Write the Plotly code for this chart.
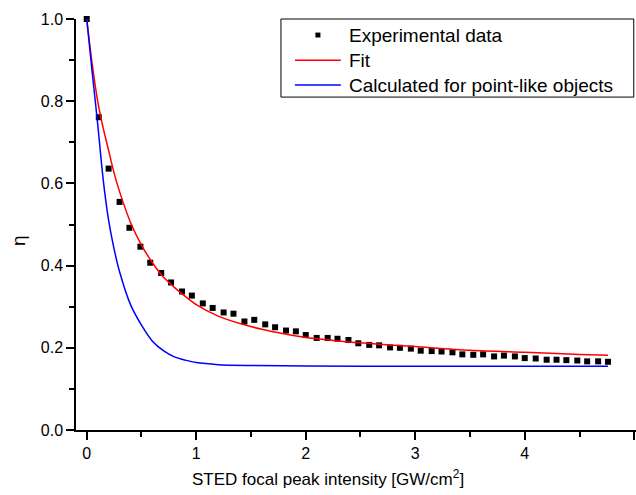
import plotly.graph_objects as go

exp_x = [0.00, 0.11, 0.20, 0.30, 0.39, 0.49, 0.58, 0.68, 0.77, 0.87,
         0.96, 1.06, 1.15, 1.25, 1.34, 1.44, 1.53, 1.63, 1.72, 1.82,
         1.91, 2.00, 2.10, 2.20, 2.29, 2.39, 2.48, 2.58, 2.67, 2.77,
         2.86, 2.96, 3.05, 3.15, 3.24, 3.34, 3.43, 3.53, 3.62, 3.72,
         3.81, 3.91, 4.00, 4.10, 4.20, 4.29, 4.38, 4.48, 4.57, 4.67, 4.76]
exp_y = [1.000, 0.761, 0.636, 0.555, 0.492, 0.446, 0.407, 0.382, 0.359, 0.337,
         0.327, 0.308, 0.297, 0.286, 0.283, 0.264, 0.268, 0.257, 0.250, 0.242,
         0.240, 0.231, 0.224, 0.224, 0.222, 0.219, 0.211, 0.207, 0.206, 0.201,
         0.200, 0.198, 0.193, 0.192, 0.191, 0.189, 0.184, 0.183, 0.184, 0.179,
         0.181, 0.179, 0.175, 0.174, 0.171, 0.171, 0.170, 0.169, 0.167, 0.167, 0.166]

# Fit curve (red)
fit_x = [0, 0.05, 0.1, 0.15, 0.2, 0.25, 0.3, 0.4, 0.5, 0.6, 0.7, 0.8, 0.9, 1.0,
         1.2, 1.4, 1.6, 1.8, 2.0, 2.25, 2.5, 3.0, 3.5, 4.0, 4.5, 4.76]
fit_y = [1.0, 0.89, 0.80, 0.735, 0.68, 0.625, 0.58, 0.505, 0.45, 0.407, 0.372, 0.347,
         0.325, 0.305, 0.277, 0.259, 0.245, 0.234, 0.225, 0.218, 0.212, 0.203,
         0.194, 0.189, 0.184, 0.182]

# Calculated for point-like objects (blue)
calc_x = [0, 0.05, 0.1, 0.15, 0.2, 0.25, 0.3, 0.4, 0.5, 0.6, 0.7, 0.8, 0.9, 1.0,
          1.2, 1.5, 2.0, 3.0, 4.0, 4.76]
calc_y = [1.0, 0.87, 0.745, 0.61, 0.51, 0.44, 0.385, 0.305, 0.255, 0.216, 0.193,
          0.178, 0.170, 0.164, 0.159, 0.157, 0.156, 0.155, 0.155, 0.155]

series_names = ["Experimental data", "Fit", "Calculated for point-like objects"]
x_title = "STED focal peak intensity [GW/cm<sup>2</sup>]"
y_title = "η"

FONT = "Arial, 'Liberation Sans', sans-serif"
RED = "#ff0000"
BLUE = "#0000ff"

fig = go.Figure()
fig.add_trace(go.Scatter(x=exp_x, y=exp_y, mode="markers", name=series_names[0],
                         marker=dict(symbol="square", size=6, color="black"),
                         cliponaxis=False, showlegend=False))
fig.add_trace(go.Scatter(x=fit_x, y=fit_y, mode="lines", name=series_names[1],
                         line=dict(color=RED, width=1.5, shape="spline", smoothing=0.8),
                         cliponaxis=False, showlegend=False))
fig.add_trace(go.Scatter(x=calc_x, y=calc_y, mode="lines", name=series_names[2],
                         line=dict(color=BLUE, width=1.5, shape="spline", smoothing=0.8),
                         cliponaxis=False, showlegend=False))

# ---- legend box (paper coordinates) ----
L_X0, L_X1, L_Y0, L_Y1 = 0.366, 0.996, 0.810, 1.0
ROWS = [0.961, 0.8995, 0.8393]
SYM_X0, SYM_X1, TXT_X = 0.391, 0.473, 0.484
shapes = [
    dict(type="rect", xref="paper", yref="paper", x0=L_X0, x1=L_X1, y0=L_Y0, y1=L_Y1,
         line=dict(color="black", width=1), fillcolor="rgba(0,0,0,0)", layer="above"),
    dict(type="rect", xref="paper", yref="paper",
         x0=(SYM_X0 + SYM_X1) / 2 - 0.0045, x1=(SYM_X0 + SYM_X1) / 2 + 0.0045,
         y0=ROWS[0] - 0.006, y1=ROWS[0] + 0.006,
         line=dict(width=0), fillcolor="black"),
    dict(type="line", xref="paper", yref="paper", x0=SYM_X0, x1=SYM_X1,
         y0=ROWS[1], y1=ROWS[1], line=dict(color=RED, width=1.5)),
    dict(type="line", xref="paper", yref="paper", x0=SYM_X0, x1=SYM_X1,
         y0=ROWS[2], y1=ROWS[2], line=dict(color=BLUE, width=1.5)),
]
annotations = [
    dict(text=name, xref="paper", yref="paper", x=TXT_X, y=row,
         xanchor="left", yanchor="middle", showarrow=False,
         font=dict(size=19, family=FONT, color="black"))
    for name, row in zip(series_names, ROWS)
]
annotations += [
    dict(text=x_title, xref="paper", yref="paper", x=0.45, y=-0.1176,
         xanchor="center", yanchor="middle", showarrow=False,
         font=dict(size=17, family=FONT)),
    dict(text=y_title, xref="paper", yref="paper", x=-0.1036, y=0.462,
         xanchor="center", yanchor="middle", showarrow=False, textangle=-90,
         font=dict(size=19, family=FONT)),
]

fig.update_layout(
    width=636, height=495,
    margin=dict(l=76, r=0, t=19, b=65),
    paper_bgcolor="white", plot_bgcolor="white",
    font=dict(family=FONT, color="black", size=16),
    showlegend=False,
    shapes=shapes,
    annotations=annotations,
)
fig.update_xaxes(
    range=[-0.098, 5.016], showline=True, linecolor="black", linewidth=1.5,
    showgrid=False, zeroline=False, ticks="outside", ticklen=8, tickwidth=1.5,
    tickcolor="black", tickmode="linear", tick0=0, dtick=1,
    tickfont=dict(size=16),
    minor=dict(ticks="outside", ticklen=5, tickwidth=1.5, tickcolor="black", dtick=0.5, tick0=0),
)
fig.update_yaxes(
    range=[0, 1.0], showline=True, linecolor="black", linewidth=1.5,
    showgrid=False, zeroline=False, ticks="outside", ticklen=8, tickwidth=1.5,
    tickcolor="black", tickmode="linear", tick0=0, dtick=0.2, tickformat=".1f",
    tickfont=dict(size=16),
    minor=dict(ticks="outside", ticklen=5, tickwidth=1.5, tickcolor="black", dtick=0.1, tick0=0),
)

fig.write_html("out.html")
